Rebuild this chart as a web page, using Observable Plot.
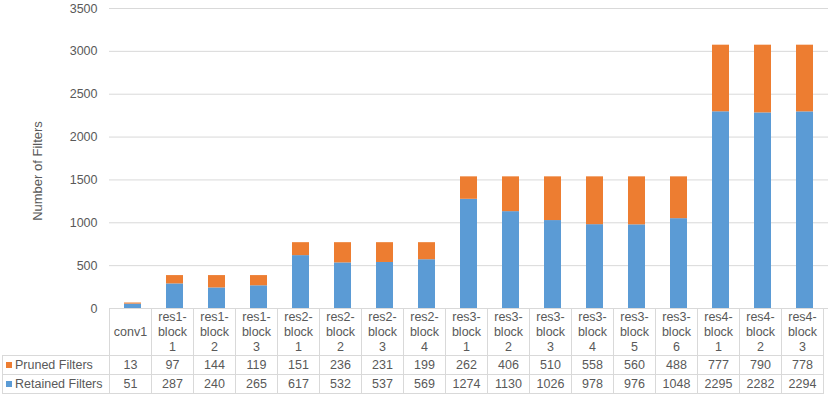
<!DOCTYPE html>
<html><head><meta charset="utf-8">
<script src="https://cdn.jsdelivr.net/npm/d3@7"></script>
<script src="https://cdn.jsdelivr.net/npm/@observablehq/plot@0.6"></script>
<style>
body{margin:0;background:#fff;font-family:"Liberation Sans",Arial,sans-serif;}
#wrap{position:relative;width:830px;height:396px;overflow:hidden;}
#ytitle{position:absolute;left:37px;top:171px;transform:translate(-50%,-50%) rotate(-90deg);font-size:13px;color:#595959;white-space:nowrap;}
table{position:absolute;left:2px;top:308px;border-collapse:collapse;table-layout:fixed;font-size:12.5px;color:#595959;}
td{border:1px solid #d9d9d9;text-align:center;padding:0;height:18px;line-height:15px;}
tr.hdr td{height:46px;}
td.lab{text-align:left;padding-left:3px;white-space:nowrap;}
td.blank{border:none;border-right:1px solid #d9d9d9;}
.key{display:inline-block;width:6px;height:6px;margin-right:3px;vertical-align:1px;}
</style></head>
<body><div id="wrap"><div id="ytitle">Number of Filters</div></div>
<script>
const categories = ["conv1","res1-block1","res1-block2","res1-block3","res2-block1","res2-block2","res2-block3","res2-block4","res3-block1","res3-block2","res3-block3","res3-block4","res3-block5","res3-block6","res4-block1","res4-block2","res4-block3"];
const headerLabels = [["conv1"],["res1-","block","1"],["res1-","block","2"],["res1-","block","3"],["res2-","block","1"],["res2-","block","2"],["res2-","block","3"],["res2-","block","4"],["res3-","block","1"],["res3-","block","2"],["res3-","block","3"],["res3-","block","4"],["res3-","block","5"],["res3-","block","6"],["res4-","block","1"],["res4-","block","2"],["res4-","block","3"]];
const pruned = [13,97,144,119,151,236,231,199,262,406,510,558,560,488,777,790,778];
const retained = [51,287,240,265,617,532,537,569,1274,1130,1026,978,976,1048,2295,2282,2294];
const seriesNames = ["Retained Filters","Pruned Filters"];
const colors = ["#5B9BD5","#ED7D31"];
const yTicks = [0,500,1000,1500,2000,2500,3000,3500];

const data = [];
categories.forEach((c,i)=>{
  data.push({cat:c, series:seriesNames[0], value:retained[i]});
  data.push({cat:c, series:seriesNames[1], value:pruned[i]});
});

const chart = Plot.plot({
  width:830, height:318,
  marginLeft:109, marginRight:2, marginTop:8, marginBottom:10,
  style:{fontFamily:"Liberation Sans, Arial, sans-serif", fontSize:"12.5px", color:"#595959", background:"transparent"},
  x:{domain:categories, paddingInner:0.6, paddingOuter:0.3, axis:null},
  y:{domain:[0,3500], ticks:yTicks},
  color:{domain:seriesNames, range:colors},
  marks:[
    Plot.gridY(yTicks,{stroke:"#d9d9d9", strokeOpacity:1}),
    Plot.axisY(yTicks,{tickSize:0, tickPadding:12, label:null, fill:"#595959", fontSize:12.5, tickFormat:d3.format("d")}),
    Plot.barY(data,{x:"cat", y:"value", fill:"series", order:seriesNames}),
    Plot.ruleY([0],{stroke:"#d9d9d9"})
  ]
});
const wrap = document.getElementById("wrap");
chart.style.position="absolute"; chart.style.left="0"; chart.style.top="0";
wrap.appendChild(chart);

const step = chart.scale("x").step;
const table = document.createElement("table");
const cg = document.createElement("colgroup");
const c0 = document.createElement("col"); c0.style.width = (109-2)+"px"; cg.appendChild(c0);
categories.forEach(()=>{const c=document.createElement("col"); c.style.width=step+"px"; cg.appendChild(c);});
table.appendChild(cg);
table.style.width = (107 + step*categories.length)+"px";
const hdr = document.createElement("tr"); hdr.className="hdr";
const blank = document.createElement("td"); blank.className="blank"; hdr.appendChild(blank);
headerLabels.forEach(l=>{const td=document.createElement("td"); td.innerHTML=l.join("<br>"); hdr.appendChild(td);});
table.appendChild(hdr);
[[seriesNames[1],pruned,colors[1]],[seriesNames[0],retained,colors[0]]].forEach(([name,vals,col])=>{
  const tr=document.createElement("tr");
  const lab=document.createElement("td"); lab.className="lab";
  lab.innerHTML=`<span class="key" style="background:${col}"></span>${name}`;
  tr.appendChild(lab);
  vals.forEach(v=>{const td=document.createElement("td"); td.textContent=v; tr.appendChild(td);});
  table.appendChild(tr);
});
wrap.appendChild(table);
</script></body></html>
